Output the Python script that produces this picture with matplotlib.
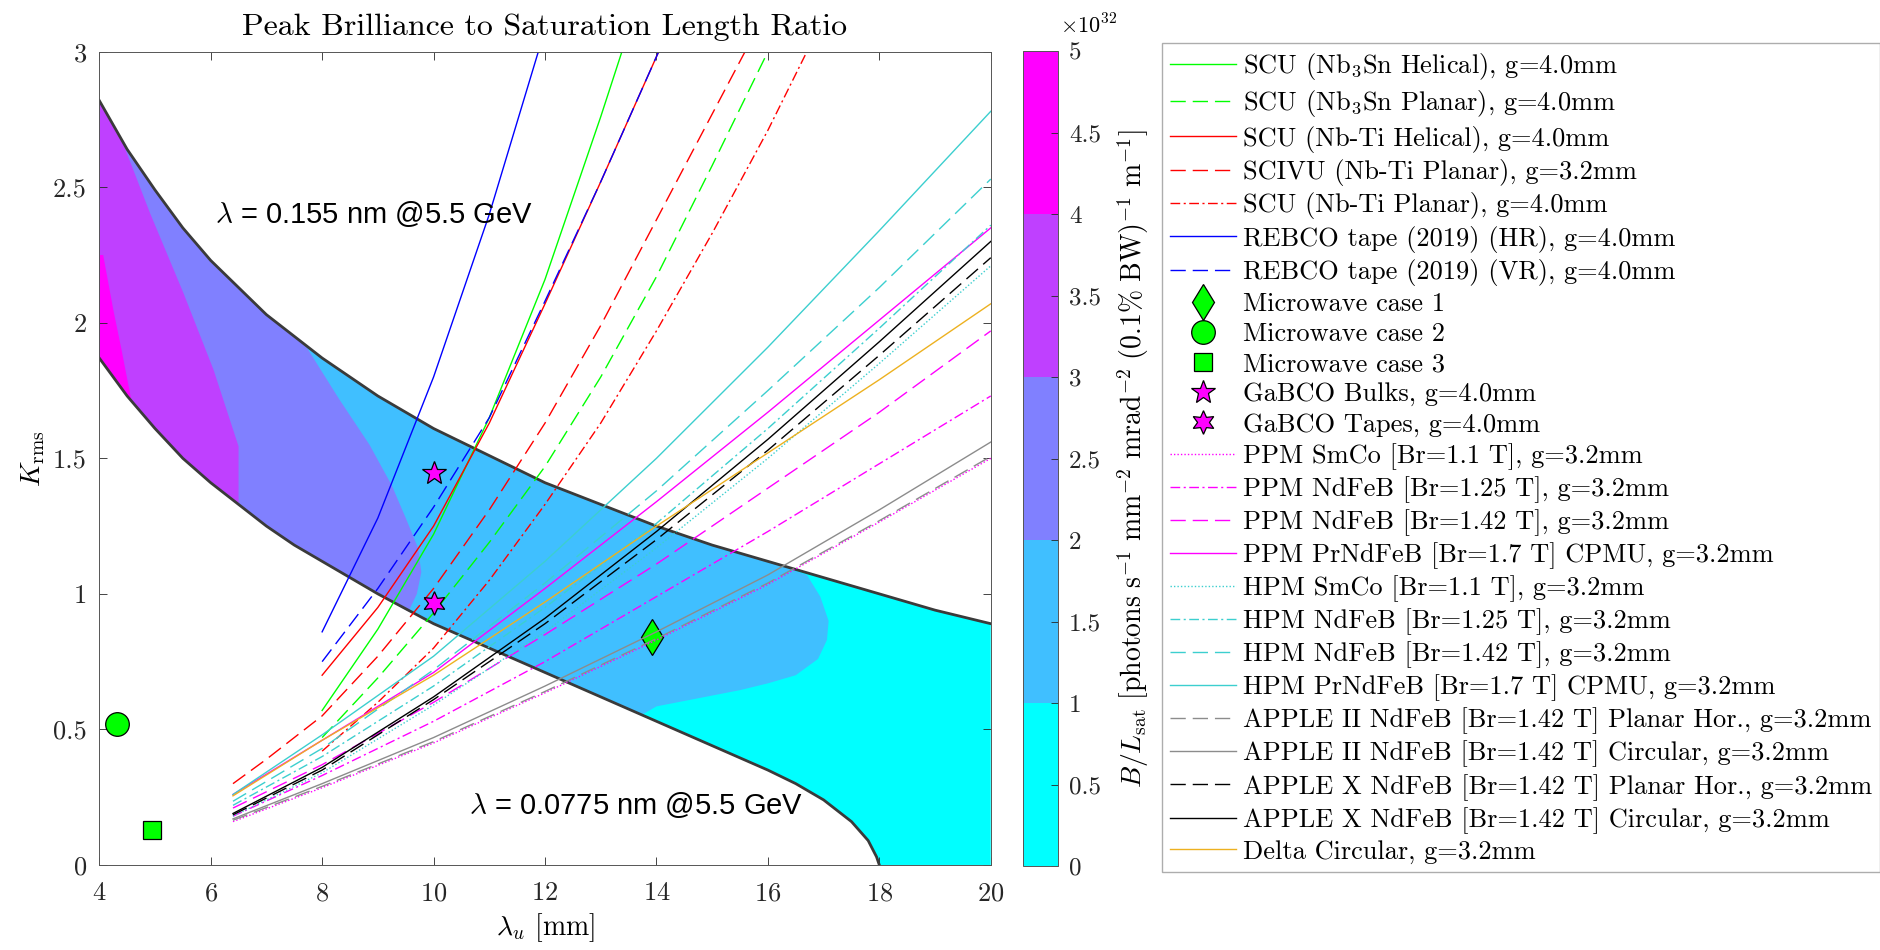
import matplotlib
matplotlib.use('Agg')
import matplotlib.pyplot as plt
from matplotlib.cm import ScalarMappable
from matplotlib.colors import BoundaryNorm
from matplotlib.ticker import FuncFormatter

plt.rcParams['font.family'] = 'cmr10'
plt.rcParams['mathtext.fontset'] = 'cm'
plt.rcParams['axes.formatter.use_mathtext'] = True

# resonance curves at 5.5 GeV (lambda_u in mm, K_rms)
lu_hi = [4, 4.5, 5, 5.5, 6, 6.5, 7, 7.5, 8, 9, 10, 11, 12, 13, 14, 15, 16, 17, 18, 19, 20]
K_hi = [2.82, 2.64, 2.49, 2.35, 2.23, 2.13, 2.03, 1.95, 1.87, 1.73, 1.61, 1.51, 1.41,
        1.33, 1.25, 1.18, 1.12, 1.06, 1.00, 0.94, 0.89]
lu_lo = [4, 4.5, 5, 5.5, 6, 6.5, 7, 7.5, 8, 9, 10, 11, 12, 13, 14, 15, 16, 16.5, 17,
         17.5, 17.8, 17.95, 18]
K_lo = [1.87, 1.73, 1.61, 1.50, 1.41, 1.33, 1.25, 1.18, 1.12, 1.00, 0.89, 0.80, 0.71,
        0.62, 0.53, 0.44, 0.35, 0.30, 0.24, 0.16, 0.09, 0.03, 0.0]

# borders between the B/Lsat bands, from the upper curve down to the lower one
edge_1 = [(16.70, 1.07), (16.94, 0.99), (17.09, 0.90), (17.06, 0.83), (16.9, 0.76),
          (16.5, 0.70), (16.0, 0.67), (15.5, 0.645), (15.0, 0.625), (14.5, 0.605),
          (14.0, 0.585), (13.75, 0.555)]
edge_2 = [(7.72, 1.91), (8.3, 1.72), (8.85, 1.55), (9.25, 1.40), (9.5, 1.28),
          (9.72, 1.17), (9.78, 1.08), (9.70, 1.00), (9.55, 0.935)]
edge_3 = [(4.40, 2.676), (4.91, 2.405), (5.51, 2.11), (6.05, 1.827), (6.50, 1.544),
          (6.50, 1.33)]
edge_4 = [(4.0, 2.25), (4.07, 2.25), (4.25, 2.05), (4.40, 1.90), (4.58, 1.71)]
cbar_levels = [0, 1, 2, 3, 4, 5]
cbar_ticks = [0, 0.5, 1, 1.5, 2, 2.5, 3, 3.5, 4, 4.5, 5]

# superconducting undulators
lu_nb3sn_hel = [8, 9, 10, 11, 12, 13, 13.38]
K_nb3sn_hel = [0.57, 0.87, 1.22, 1.65, 2.16, 2.76, 3.0]
lu_nb3sn_pla = [8, 9, 10, 11, 12, 13, 14, 15, 16]
K_nb3sn_pla = [0.47, 0.69, 0.93, 1.19, 1.47, 1.80, 2.17, 2.58, 3.0]
lu_nbti_hel = [8, 9, 10, 11, 12, 13, 14.04]
K_nbti_hel = [0.70, 0.95, 1.25, 1.63, 2.07, 2.52, 3.0]
lu_scivu = [6.4, 7, 8, 9, 10, 11, 12, 13, 14, 15, 15.59]
K_scivu = [0.30, 0.39, 0.55, 0.77, 1.02, 1.31, 1.63, 1.99, 2.38, 2.77, 3.0]
lu_nbti_pla = [8, 9, 10, 11, 12, 13, 14, 15, 16, 16.7]
K_nbti_pla = [0.42, 0.60, 0.80, 1.05, 1.33, 1.63, 1.97, 2.33, 2.71, 3.0]
lu_rebco_hr = [8, 9, 10, 11, 11.88]
K_rebco_hr = [0.86, 1.28, 1.80, 2.40, 3.0]
lu_rebco_vr = [8, 9, 10, 11, 12, 13, 14.04]
K_rebco_vr = [0.75, 1.02, 1.32, 1.65, 2.08, 2.52, 3.0]

# point designs
mw_lu = [13.92, 4.32, 4.94]
mw_K = [0.84, 0.52, 0.13]
gabco_lu = [10.0, 10.0]
gabco_K = [1.445, 0.966]

# permanent magnet devices, all from 6.4 to 20 mm
lu_pm = [6.4, 8, 10, 12, 14, 16, 18, 20]
K_ppm_smco = [0.16, 0.285, 0.45, 0.635, 0.83, 1.035, 1.265, 1.50]
K_ppm_ndfeb125 = [0.18, 0.33, 0.53, 0.75, 0.99, 1.23, 1.48, 1.73]
K_ppm_ndfeb142 = [0.21, 0.37, 0.60, 0.85, 1.11, 1.39, 1.67, 1.97]
K_ppm_prndfeb = [0.26, 0.46, 0.71, 1.02, 1.34, 1.67, 2.01, 2.35]
K_hpm_smco = [0.18, 0.34, 0.59, 0.86, 1.17, 1.50, 1.85, 2.21]
K_hpm_ndfeb125 = [0.22, 0.40, 0.66, 0.95, 1.26, 1.61, 1.98, 2.36]
K_hpm_ndfeb142 = [0.235, 0.43, 0.72, 1.04, 1.38, 1.75, 2.13, 2.53]
K_hpm_prndfeb = [0.26, 0.48, 0.77, 1.12, 1.50, 1.91, 2.34, 2.78]
K_a2_pla = [0.165, 0.29, 0.455, 0.64, 0.835, 1.04, 1.27, 1.507]
K_a2_circ = [0.17, 0.30, 0.47, 0.66, 0.86, 1.07, 1.31, 1.56]
K_ax_pla = [0.185, 0.35, 0.61, 0.89, 1.20, 1.53, 1.88, 2.24]
K_ax_circ = [0.19, 0.36, 0.62, 0.91, 1.23, 1.57, 1.93, 2.30]
K_delta = [0.255, 0.46, 0.70, 0.97, 1.25, 1.52, 1.79, 2.07]

solid = '-'
dashed = (0, (11, 5))
dashdot = (0, (7, 2.5, 1.5, 2.5))
dotted = (0, (1, 1.5))
green, red, blue, mag = '#00ff00', '#ff0000', '#0000ff', '#ff00ff'
cyan, gray, orange = '#3ccfcf', '#8c8c8c', '#edb120'

fig = plt.figure(figsize=(18.8, 9.5), dpi=100)
ax = fig.add_axes([0.0528, 0.0895, 0.4742, 0.8561])
cmap = plt.get_cmap('cool', 5)


def band(edge):
    top = [(x, k) for x, k in zip(lu_hi, K_hi) if x < edge[0][0]]
    bot = [(x, k) for x, k in zip(lu_lo, K_lo) if x < edge[-1][0]][::-1]
    return top + edge + bot


# whole window between the curves, then the brighter bands on top
poly = list(zip(lu_hi, K_hi)) + [(20, 0)] + list(zip(lu_lo, K_lo))[::-1]
ax.fill(*zip(*poly), color=cmap(0), lw=0)
for i, edge in enumerate([edge_1, edge_2, edge_3, edge_4], start=1):
    ax.fill(*zip(*band(edge)), color=cmap(i), lw=0)

ax.plot(lu_hi, K_hi, color='#3a3a3a', lw=2.0)
ax.plot(lu_lo, K_lo, color='#3a3a3a', lw=2.0)

series = [
    (r'SCU (Nb$_3$Sn Helical), g=4.0mm', lu_nb3sn_hel, K_nb3sn_hel, green, solid),
    (r'SCU (Nb$_3$Sn Planar), g=4.0mm', lu_nb3sn_pla, K_nb3sn_pla, green, dashed),
    ('SCU (Nb-Ti Helical), g=4.0mm', lu_nbti_hel, K_nbti_hel, red, solid),
    ('SCIVU (Nb-Ti Planar), g=3.2mm', lu_scivu, K_scivu, red, dashed),
    ('SCU (Nb-Ti Planar), g=4.0mm', lu_nbti_pla, K_nbti_pla, red, dashdot),
    ('REBCO tape (2019) (HR), g=4.0mm', lu_rebco_hr, K_rebco_hr, blue, solid),
    ('REBCO tape (2019) (VR), g=4.0mm', lu_rebco_vr, K_rebco_vr, blue, dashed),
]
handles = []
for lab, x, y, c, ls in series:
    h, = ax.plot(x, y, color=c, ls=ls, lw=1.0, label=lab)
    handles.append(h)

mk = dict(ls='none', mec='k', mew=0.9)
handles.append(ax.plot(mw_lu[0], mw_K[0], marker='d', ms=18, mfc=green,
                       label='Microwave case 1', **mk)[0])
handles.append(ax.plot(mw_lu[1], mw_K[1], marker='o', ms=17, mfc=green,
                       label='Microwave case 2', **mk)[0])
handles.append(ax.plot(mw_lu[2], mw_K[2], marker='s', ms=13, mfc=green,
                       label='Microwave case 3', **mk)[0])
handles.append(ax.plot(gabco_lu[0], gabco_K[0], marker='*', ms=18, mfc=mag,
                       label='GaBCO Bulks, g=4.0mm', **mk)[0])
handles.append(ax.plot(gabco_lu[1], gabco_K[1], marker=(6, 1, 0), ms=17, mfc=mag,
                       label='GaBCO Tapes, g=4.0mm', **mk)[0])

pm_series = [
    ('PPM SmCo [Br=1.1 T], g=3.2mm', K_ppm_smco, mag, dotted),
    ('PPM NdFeB [Br=1.25 T], g=3.2mm', K_ppm_ndfeb125, mag, dashdot),
    ('PPM NdFeB [Br=1.42 T], g=3.2mm', K_ppm_ndfeb142, mag, dashed),
    ('PPM PrNdFeB [Br=1.7 T] CPMU, g=3.2mm', K_ppm_prndfeb, mag, solid),
    ('HPM SmCo [Br=1.1 T], g=3.2mm', K_hpm_smco, cyan, dotted),
    ('HPM NdFeB [Br=1.25 T], g=3.2mm', K_hpm_ndfeb125, cyan, dashdot),
    ('HPM NdFeB [Br=1.42 T], g=3.2mm', K_hpm_ndfeb142, cyan, dashed),
    ('HPM PrNdFeB [Br=1.7 T] CPMU, g=3.2mm', K_hpm_prndfeb, cyan, solid),
    ('APPLE II NdFeB [Br=1.42 T] Planar Hor., g=3.2mm', K_a2_pla, gray, dashed),
    ('APPLE II NdFeB [Br=1.42 T] Circular, g=3.2mm', K_a2_circ, gray, solid),
    ('APPLE X NdFeB [Br=1.42 T] Planar Hor., g=3.2mm', K_ax_pla, 'k', dashed),
    ('APPLE X NdFeB [Br=1.42 T] Circular, g=3.2mm', K_ax_circ, 'k', solid),
    ('Delta Circular, g=3.2mm', K_delta, orange, solid),
]
for lab, y, c, ls in pm_series:
    h, = ax.plot(lu_pm, y, color=c, ls=ls, lw=1.0, label=lab)
    handles.append(h)

ax.text(6.08, 2.40, r'$\lambda$ = 0.155 nm @5.5 GeV', family='Liberation Sans',
        fontsize=21, va='center', ha='left')
ax.text(10.63, 0.221, r'$\lambda$ = 0.0775 nm @5.5 GeV', family='Liberation Sans',
        fontsize=21, va='center', ha='left')

ax.set_xlim(4, 20)
ax.set_ylim(0, 3)
ax.set_xticks([4, 6, 8, 10, 12, 14, 16, 18, 20])
ax.set_yticks([0, 0.5, 1, 1.5, 2, 2.5, 3])
ax.yaxis.set_major_formatter(FuncFormatter(lambda v, p: f'{v:g}'))
ax.tick_params(direction='in', top=True, right=True, length=6, width=0.6,
               labelsize=19, colors='#262626')
ax.tick_params(axis='x', pad=12)
ax.tick_params(axis='y', pad=9)
for s in ax.spines.values():
    s.set_color('#555555')
    s.set_linewidth(0.7)
ax.set_title('Peak Brilliance to Saturation Length Ratio', fontsize=23, pad=12)
ax.set_xlabel(r'$\lambda_u$ [mm]', fontsize=20)
ax.set_ylabel(r'$K_{\rm rms}$', fontsize=20)

cax = fig.add_axes([0.5440, 0.0884, 0.0186, 0.8579])
norm = BoundaryNorm(cbar_levels, 5)
cb = fig.colorbar(ScalarMappable(norm=norm, cmap=cmap), cax=cax, ticks=cbar_ticks)
cb.ax.yaxis.set_major_formatter(FuncFormatter(lambda v, p: f'{v:g}'))
cb.ax.tick_params(direction='in', length=5, width=0.6, labelsize=18, colors='#262626', pad=8)
cb.outline.set_edgecolor('#555555')
cb.outline.set_linewidth(0.7)
cb.set_label(r'$B/L_{\rm sat}\ [\rm photons\ s^{-1}\ mm^{-2}\ mrad^{-2}\ (0.1\%\ BW)^{-1}\ m^{-1}]$',
             fontsize=20, labelpad=10)
fig.text(1060 / 1880, 1 - 25 / 950, r'$\times10^{32}$', fontsize=16, va='center', ha='left')

leg = fig.legend(handles=handles, loc='upper left', bbox_to_anchor=(1162 / 1880, 1 - 43 / 950),
                 fontsize=19, frameon=True, fancybox=False, edgecolor='#999999',
                 handlelength=2.5, handletextpad=0.27, borderpad=0.3, labelspacing=0.24,
                 borderaxespad=0)
leg.get_frame().set_linewidth(1.0)

fig.savefig('out.png', dpi=100)
